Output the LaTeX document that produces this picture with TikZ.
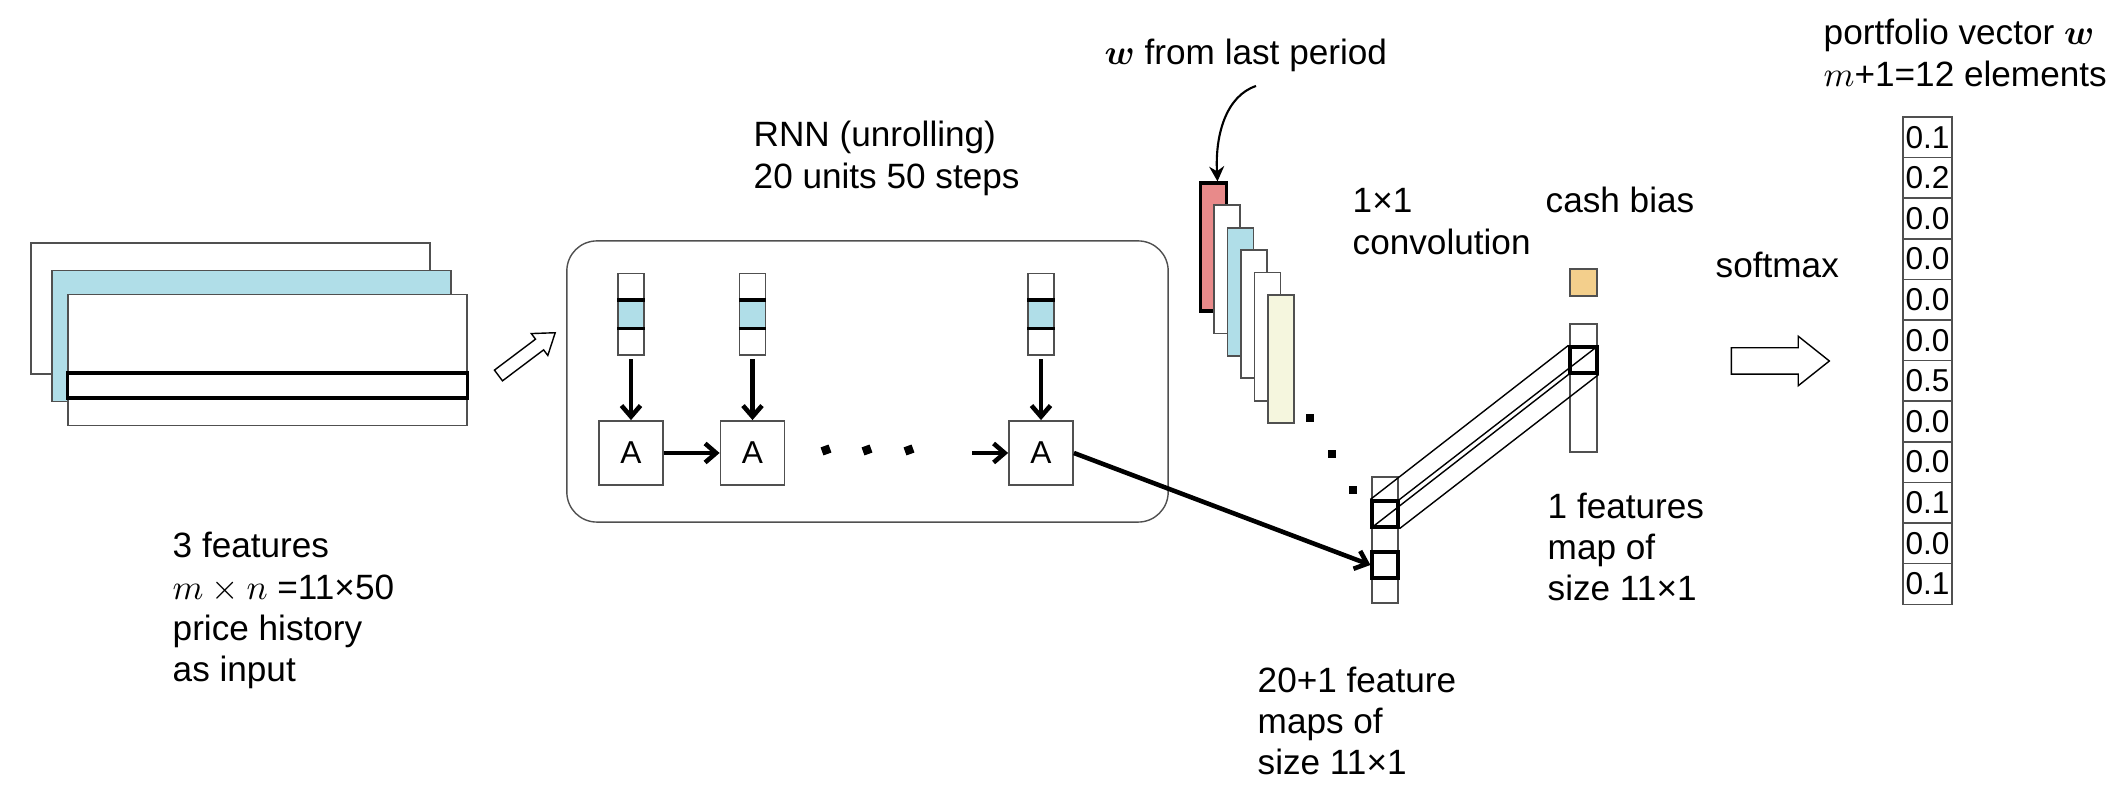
\documentclass[tikz,border=0pt]{standalone}
\usepackage{amsmath,bm}
\usepackage{fontspec}
\setmainfont{Liberation Sans}
\usetikzlibrary{positioning, calc, shapes.arrows, arrows.meta}

\definecolor{featblue}{RGB}{176,222,232}
\definecolor{lastred}{RGB}{232,138,138}
\definecolor{cream}{RGB}{245,246,222}
\definecolor{cashorange}{RGB}{243,207,140}
\definecolor{edge}{RGB}{80,80,80}

\tikzset{
  plane/.style={rectangle, draw=edge, line width=0.5pt, fill=white, inner sep=0, minimum width=3.99cm, minimum height=1.31cm},
  cell/.style={rectangle, draw=edge, line width=0.4pt, inner sep=0, minimum width=0.26cm, minimum height=0.27cm},
  sel/.style={draw=black, line width=0.9pt},
  unit/.style={rectangle, draw=edge, line width=0.5pt, fill=white, inner sep=0, minimum size=0.64cm, font=\fontsize{9}{11}\selectfont},
  fmap/.style={rectangle, draw=edge, line width=0.5pt, inner sep=0, minimum width=0.26cm, minimum height=1.28cm},
  flow/.style={-{Straight Barb[length=1.1mm,width=1.9mm]}, line width=1.3pt},
  hollow/.style={single arrow, draw=black, fill=white, line width=0.4pt, inner xsep=0},
  txt/.style={anchor=base west, align=left, inner sep=0, font=\fontsize{10}{11.8}\selectfont},
  dot/.style={rectangle, fill=black, inner sep=0, minimum size=0.075cm},
  weight/.style={rectangle, draw=edge, line width=0.4pt, inner sep=0, minimum width=0.49cm, minimum height=0.406cm, font=\fontsize{9}{10}\selectfont}
}

\begin{document}
\begin{tikzpicture}[x=0.01cm, y=-0.01cm]
  \useasboundingbox (0,0) rectangle (2124,804);

  % input price history (text nodes sit on their last line)
  \node[plane] (back) at (230.5,308.5) {};
  \node[plane, fill=featblue] (mid) at (251.5,336) {};
  \node[plane] (front) at (267.5,360) {};
  \node[plane, sel, minimum height=0.25cm] (row) at (267.5,385.5) {};
  \node[txt] (intext) at (172,682) {3 features\\$m\times n$ =11×50\\price history\\as input};
  \node[hollow, rotate=37, minimum height=0.71cm, inner ysep=0.06cm,
        single arrow head extend=0.07cm, single arrow tip angle=70] (toRNN) at (523,357) {};

  % unrolled RNN
  \node[txt] (rnntext) at (753,188.5) {RNN (unrolling)\\20 units 50 steps};
  \node[draw=edge, line width=0.4pt, rounded corners=0.3cm, minimum width=6.01cm,
        minimum height=2.81cm] (rnn) at (867.5,381.5) {};
  \foreach \i/\x in {1/631, 2/752.5, 3/1041} {
    \node[cell] (top\i) at (\x,287) {};
    \node[cell] (bot\i) at (\x,341.5) {};
    \node[cell, fill=featblue] (mid\i) at (\x,314.3) {};
    \draw[line width=0.9pt] (mid\i.north west) -- (mid\i.north east)
      (mid\i.south west) -- (mid\i.south east);
    \node[unit] (A\i) at (\x,453) {A};
    \draw[flow, shorten <=1pt] (bot\i) -- (A\i);
  }
  \draw[flow] (A1) -- (A2);
  \coordinate (gap) at (972,453);
  \draw[flow] (gap) -- (A3);
  \foreach \x in {826,867,909}
    \node[dot, rotate=20, minimum size=0.085cm] (rdot\x) at (\x,450) {};

  % feature maps and w of last period
  \node[fmap, fill=lastred, draw=black, line width=0.9pt] (wmap) at (1213.5,247) {};
  \foreach \c [count=\k] in {white, featblue, white, white, cream}
    \node[fmap, fill=\c] (map\k) at (1213.5+13.5*\k, 247+22.4*\k) {};
  \foreach \x/\y in {1310/418, 1332/454, 1353/490}
    \node[dot] (cdot\x) at (\x,\y) {};
  \node[txt] (wtext) at (1104,65) {$\bm{w}$ from last period};
  \coordinate (wsrc) at (1256,86);
  \draw[-{Stealth[length=1.5mm,width=1.5mm]}, line width=0.6pt]
    (wsrc) .. controls (1226,96) and (1215,135) .. ($(wmap.north)+(4,0)$);

  \node[fmap, minimum height=1.26cm] (feat) at (1385,540) {};
  \node[cell, sel, minimum height=0.26cm] (h1) at (1385,514) {};
  \node[cell, sel, minimum height=0.26cm] (h2) at (1385,565) {};
  \draw[flow] (A3.east) -- (h2.west);
  \node[txt] (feattext) at (1257,775) {20+1 feature\\maps of\\size 11×1};

  % 1x1 convolution
  \node[txt] (convtext) at (1352,254.5) {1×1\\convolution};
  \node[txt] (cashtext) at (1545,213) {cash bias};
  \node[cell, fill=cashorange, minimum width=0.27cm] (cash) at (1583.5,282.5) {};
  \node[fmap, minimum width=0.27cm] (outmap) at (1583.5,388) {};
  \node[cell, sel, minimum width=0.27cm, minimum height=0.26cm] (r1) at (1583.5,360) {};
  \foreach \a in {north west, north east, south west, south east}
    \draw[line width=0.4pt] (h1.\a) -- (r1.\a);
  \node[txt] (outtext) at (1547,601) {1 features\\map of\\size 11×1};

  % softmax and portfolio vector
  \node[txt] (smtext) at (1715,278) {softmax};
  \node[hollow, minimum height=0.98cm, inner ysep=0.125cm,
        single arrow head extend=0.115cm, single arrow tip angle=77] (tow) at (1772,361) {};
  \node[txt] (wvec) at (1823,86.5) {portfolio vector $\bm{w}$\\$m$+1=12 elements};
  \foreach \v [count=\k from 0] in {0.1,0.2,0.0,0.0,0.0,0.0,0.5,0.0,0.0,0.1,0.0,0.1}
    \node[weight] (w\k) at (1927.5,137.3+40.6*\k) {\v};
\end{tikzpicture}
\end{document}
